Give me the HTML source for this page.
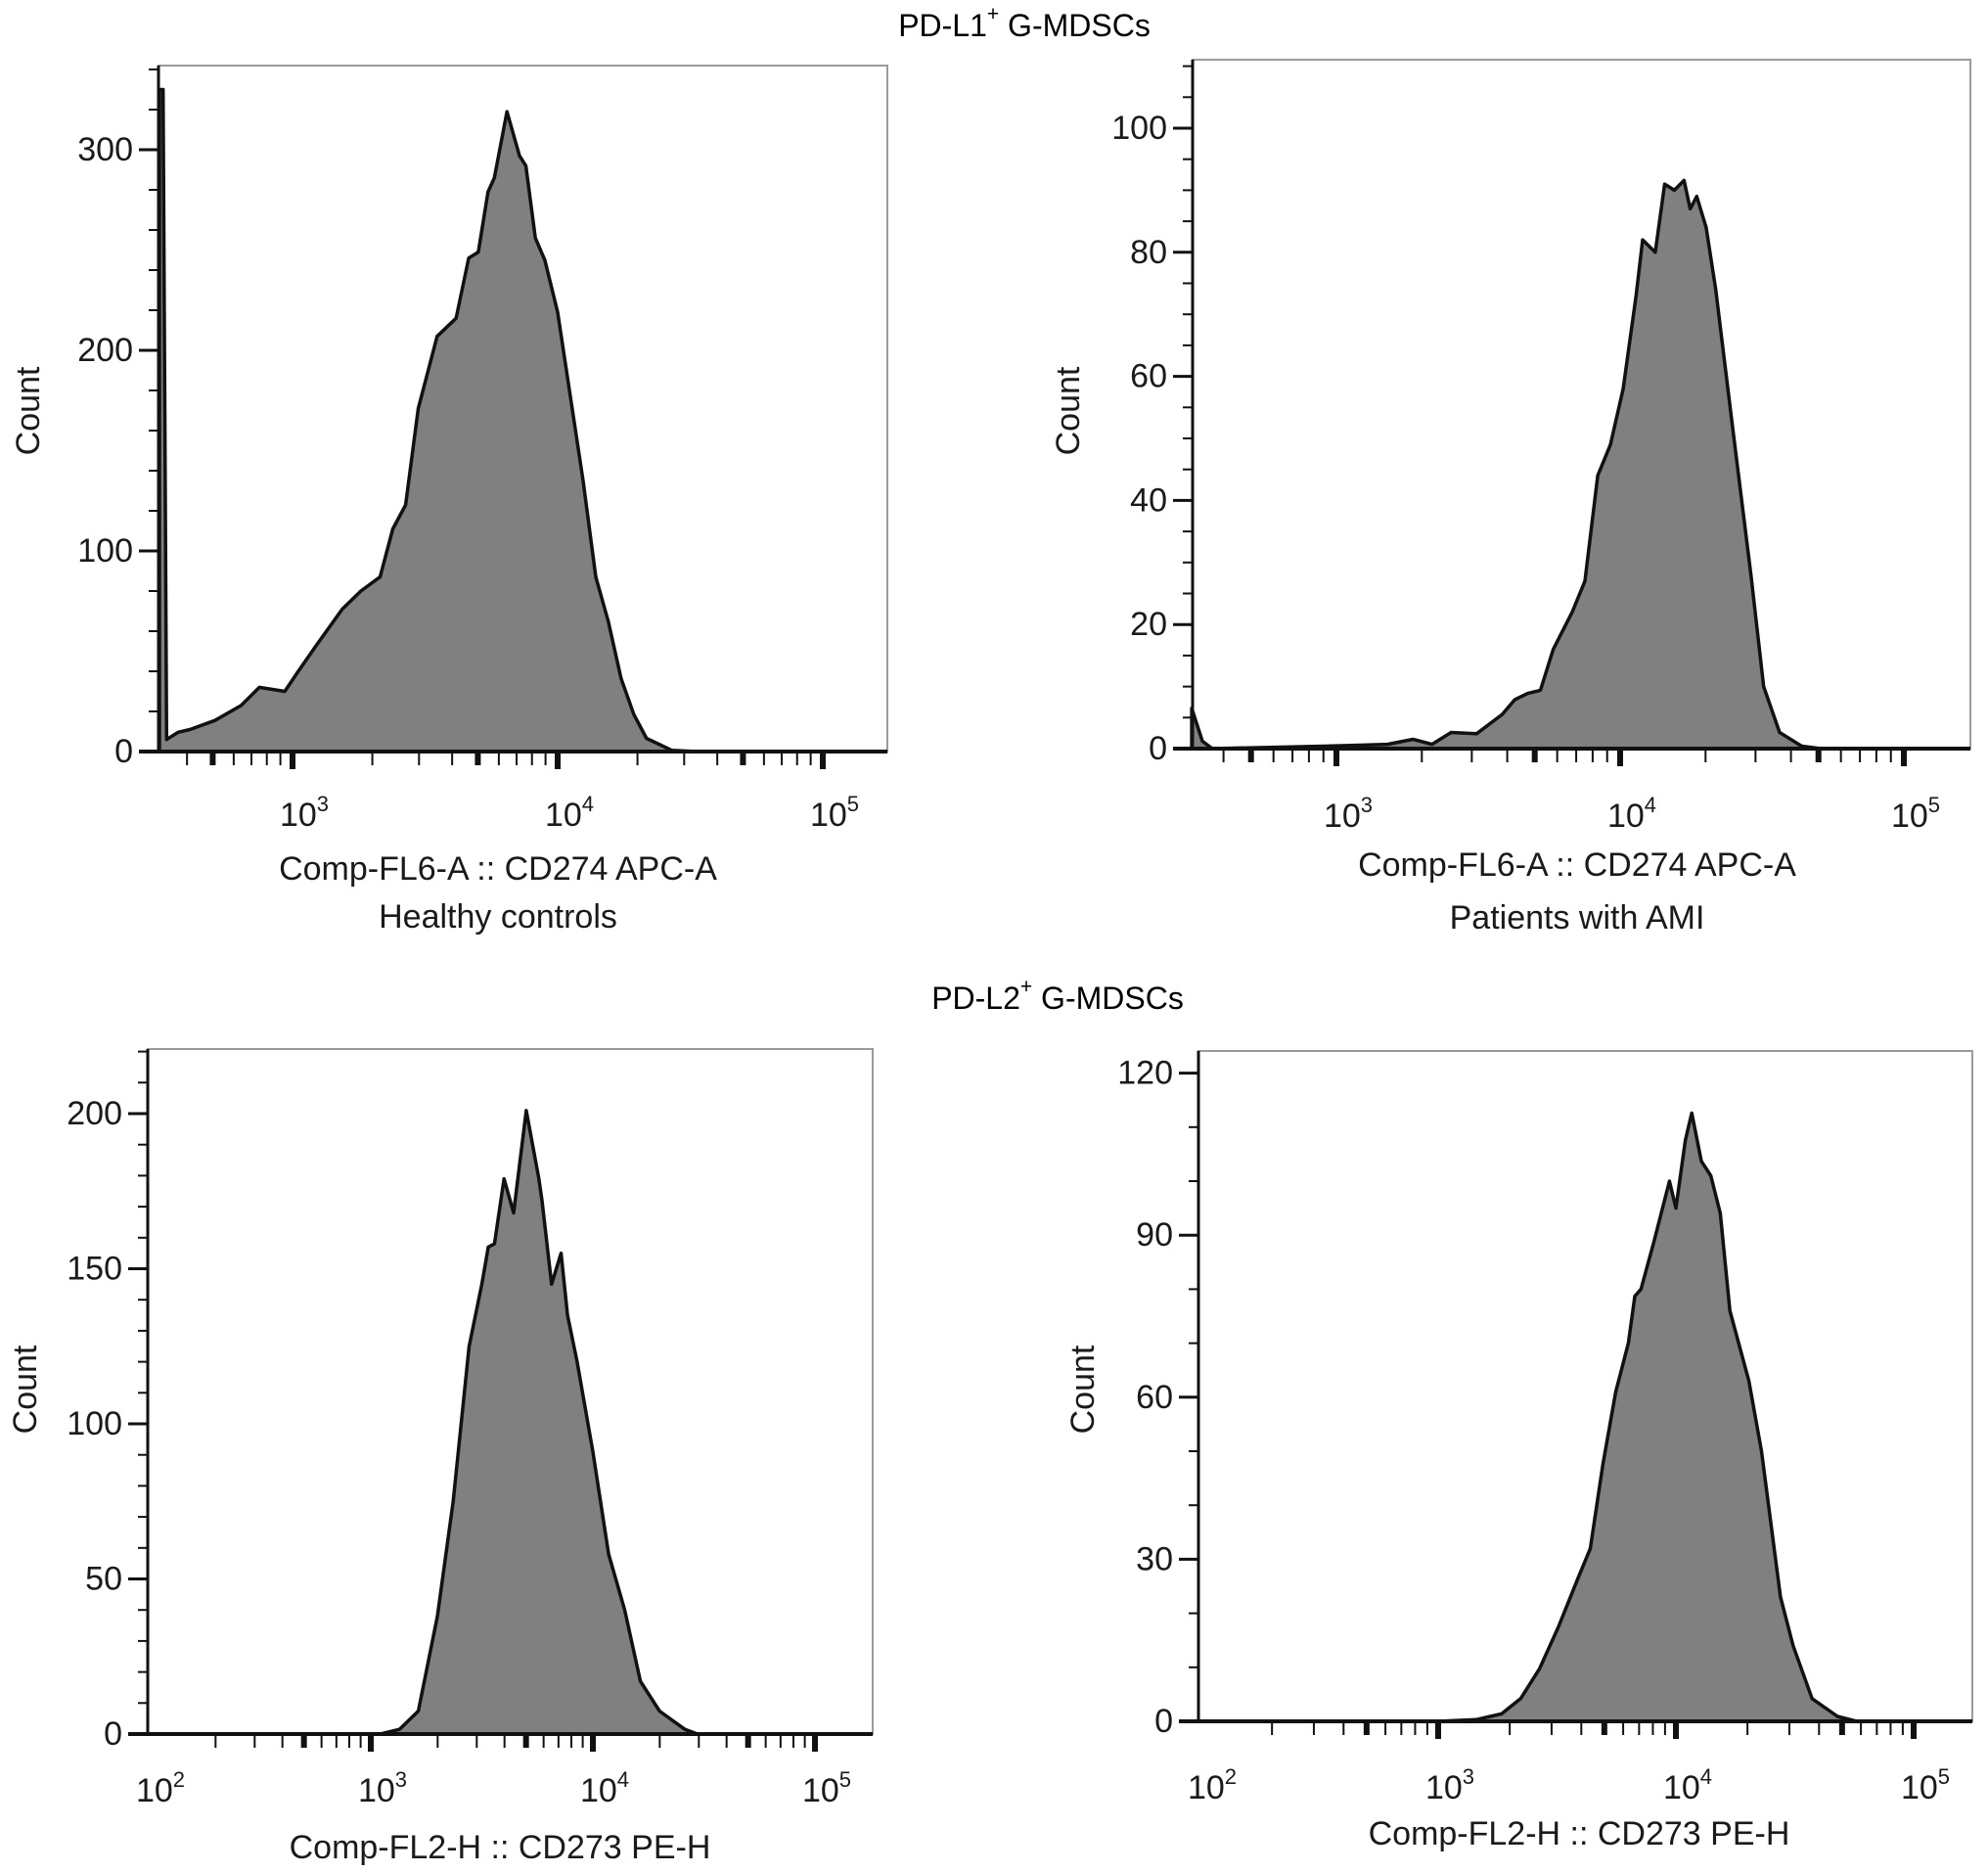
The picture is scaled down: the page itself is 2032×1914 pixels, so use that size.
<!DOCTYPE html>
<html><head><meta charset="utf-8"><style>
html,body{margin:0;padding:0;background:#fff;}
svg{display:block;font-family:"Liberation Sans",Arial,sans-serif;}
</style></head><body>
<svg id="fig" width="2032" height="1914" viewBox="0 0 2032 1914">
<text x="1047" y="26" font-size="32" text-anchor="middle" dominant-baseline="central">PD-L1<tspan font-size="21" dy="-12">+</tspan><tspan dy="12"> G-MDSCs</tspan></text>
<text x="1081" y="1020" font-size="32" text-anchor="middle" dominant-baseline="central">PD-L2<tspan font-size="21" dy="-12">+</tspan><tspan dy="12"> G-MDSCs</tspan></text>
</svg>
<script>
// Panel data: fluorescence intensity (x) and count (y)
const tlIntensity=[315,325,335,370,410,510,640,750,935,1045,1230,1540,1810,2140,2390,2670,2980,3510,4140,4620,5020,5460,5770,6440,7180,7590,8240,8950,10000,11170,12470,13930,15520,17340,19360,21630,26980,33570,44260];
const tlCount=[330,330,6,9.6,11,15.5,23,32,30,39.5,53,71,80,87,111,123,171,207,216,246,249,279,286,319,297,292,256,245,219,177,135,87,65,36.5,18.6,6.6,0.6,0,0];
const trIntensity=[309,337,365,902,1514,1862,2173,2535,3119,3837,4256,4721,5236,5808,6776,7516,8337,9247,10250,11380,12000,13300,14350,15520,16790,17660,18620,20090,21730,24720,28910,32060,36480,43650,51050];
const trCount=[6.5,1.2,0,0.4,0.7,1.5,0.7,2.6,2.4,5.5,7.9,8.9,9.4,16,22,27,44,49,58,73,82,80,91,90,91.6,87,89,84,74,53,28,10,2.6,0.4,0];
const blIntensity=[1104,1346,1637,1995,2350,2773,3162,3381,3606,3981,4395,5012,5715,5902,6516,7194,7691,8492,10000,11780,13900,16370,19950,25940,29580];
const blCount=[0,1.5,7.4,38,75,125,145,157,158,179,168,201,179,172,145,155,135,120,91,58,40,17,7.4,1.5,0];
const brIntensity=[1000,1445,1849,2223,2673,3214,3864,4365,4932,5585,6310,6714,7129,8072,9397,10000,10960,11660,12790,14030,15380,16870,20280,22910,27540,31120,37410,47860,57540];
const brCount=[0,0.3,1.4,4.2,9.8,17.6,26.4,32,47.6,61,70,78.7,80,88.7,100,95,107.6,112.6,103.7,101,94,76,63,50,23,14,4.2,0.9,0];
const tlYTicks=[0,100,200,300];
const trYTicks=[0,20,40,60,80,100];
const blYTicks=[0,50,100,150,200];
const brYTicks=[0,30,60,90,120];
const topDecades=[3,4,5];
const bottomDecades=[2,3,4,5];

const NS="http://www.w3.org/2000/svg";
const svg=document.getElementById('fig');
const FS=34;
function mk(tag,attrs,parent){const e=document.createElementNS(NS,tag);for(const k in attrs)e.setAttribute(k,attrs[k]);(parent||svg).appendChild(e);return e;}

function panel(p){
  const g=mk('g',{});
  
  
  const xs=v=>p.x3+(Math.log10(v)-3)*p.dec;
  const ys=c=>p.base-c*p.unit;
  const box=mk('rect',{x:p.left,y:p.top,width:p.right-p.left,height:p.base-p.top,fill:'#fff',stroke:'#9a9a9a','stroke-width':2},g);
  
  
  let d='M'+xs(p.xi[0]).toFixed(1)+','+p.base;
  for(let i=0;i<p.xi.length;i++)d+=' L'+xs(p.xi[i]).toFixed(1)+','+ys(p.yc[i]).toFixed(1);
  d+=' L'+xs(p.xi[p.xi.length-1]).toFixed(1)+','+p.base+' Z';
  const h=mk('path',{d:d,fill:'#808080',stroke:'#111','stroke-width':3.5,'stroke-linejoin':'round'},g);
  
  
  mk('line',{x1:p.left,y1:p.top,x2:p.left,y2:p.base,stroke:'#111','stroke-width':3},g);
  const yMax=(p.base-p.top)/p.unit;
  for(let v=0;v<=yMax;v+=p.minor){
    const y=ys(v);const major=p.yt.some(t=>Math.abs(t-v)<1e-6);
    mk('line',{x1:p.left-(major?20:10),y1:y,x2:p.left,y2:y,stroke:'#111','stroke-width':major?3:2},g);
  }
  p.yt.forEach(t=>{
    const tx=mk('text',{x:p.left-26,y:ys(t),'font-size':FS,'text-anchor':'end','dominant-baseline':'central',fill:'#1a1a1a'},g);
    tx.textContent=t;
    
    
  });
  mk('line',{x1:p.left-20,y1:p.base,x2:p.right,y2:p.base,stroke:'#111','stroke-width':4},g);
  for(let dd=1;dd<=5;dd++)for(let m=1;m<=9;m++){
    const v=m*Math.pow(10,dd);const x=xs(v);
    if(x<p.left+3||x>p.right-2)continue;
    const thick=(m==1||m==5);
    mk('line',{x1:x,y1:p.base,x2:x,y2:p.base+(m==1?18:14),stroke:'#111','stroke-width':thick?6:2},g);
  }
  p.xd.forEach(dd=>{
    const x=xs(Math.pow(10,dd))+12;
    const tx=mk('text',{x:x,y:p.tly,'font-size':FS,'text-anchor':'middle','dominant-baseline':'central',fill:'#1a1a1a'},g);
    
    
    tx.textContent='10';
    const s=mk('tspan',{'font-size':22,dy:-12},tx);s.textContent=dd;
  });
  const cl=mk('text',{x:p.cx,y:p.cy,'font-size':FS,'text-anchor':'middle','dominant-baseline':'central',transform:'rotate(-90 '+p.cx+' '+p.cy+')',fill:'#1a1a1a'},g);
  cl.textContent='Count';
  
  
  const xl=mk('text',{x:p.lx,y:p.l1y,'font-size':FS,'text-anchor':'middle','dominant-baseline':'central',fill:'#1a1a1a'},g);
  xl.textContent=p.xlabel;
  
  
  if(p.group){
    const gl=mk('text',{x:p.lx,y:p.l2y,'font-size':FS,'text-anchor':'middle','dominant-baseline':'central',fill:'#1a1a1a'},g);
    gl.textContent=p.group;
    
    
  }
}
panel({name:'panel-pd-l1-healthy',left:162,right:907,top:67,base:768,x3:299,dec:271,unit:2.05,minor:20,yt:tlYTicks,xd:topDecades,xi:tlIntensity,yc:tlCount,tly:833,cx:29,cy:420,lx:509,l1y:888,l2y:937,xlabel:'Comp-FL6-A :: CD274 APC-A',group:'Healthy controls'});
panel({name:'panel-pd-l1-ami',left:1219,right:2014,top:61,base:765,x3:1366,dec:290,unit:6.34,minor:5,yt:trYTicks,xd:topDecades,xi:trIntensity,yc:trCount,tly:834,cx:1092,cy:420,lx:1612,l1y:884,l2y:938,xlabel:'Comp-FL6-A :: CD274 APC-A',group:'Patients with AMI'});
panel({name:'panel-pd-l2-healthy',left:151,right:892,top:1072,base:1772,x3:379,dec:227,unit:3.17,minor:10,yt:blYTicks,xd:bottomDecades,xi:blIntensity,yc:blCount,tly:1830,cx:26,cy:1420,lx:511,l1y:1888,xlabel:'Comp-FL2-H :: CD273 PE-H'});
panel({name:'panel-pd-l2-ami',left:1225,right:2016,top:1074,base:1759,x3:1470,dec:243,unit:5.52,minor:10,yt:brYTicks,xd:bottomDecades,xi:brIntensity,yc:brCount,tly:1827,cx:1107,cy:1420,lx:1614,l1y:1874,xlabel:'Comp-FL2-H :: CD273 PE-H'});
</script>
</body></html>
